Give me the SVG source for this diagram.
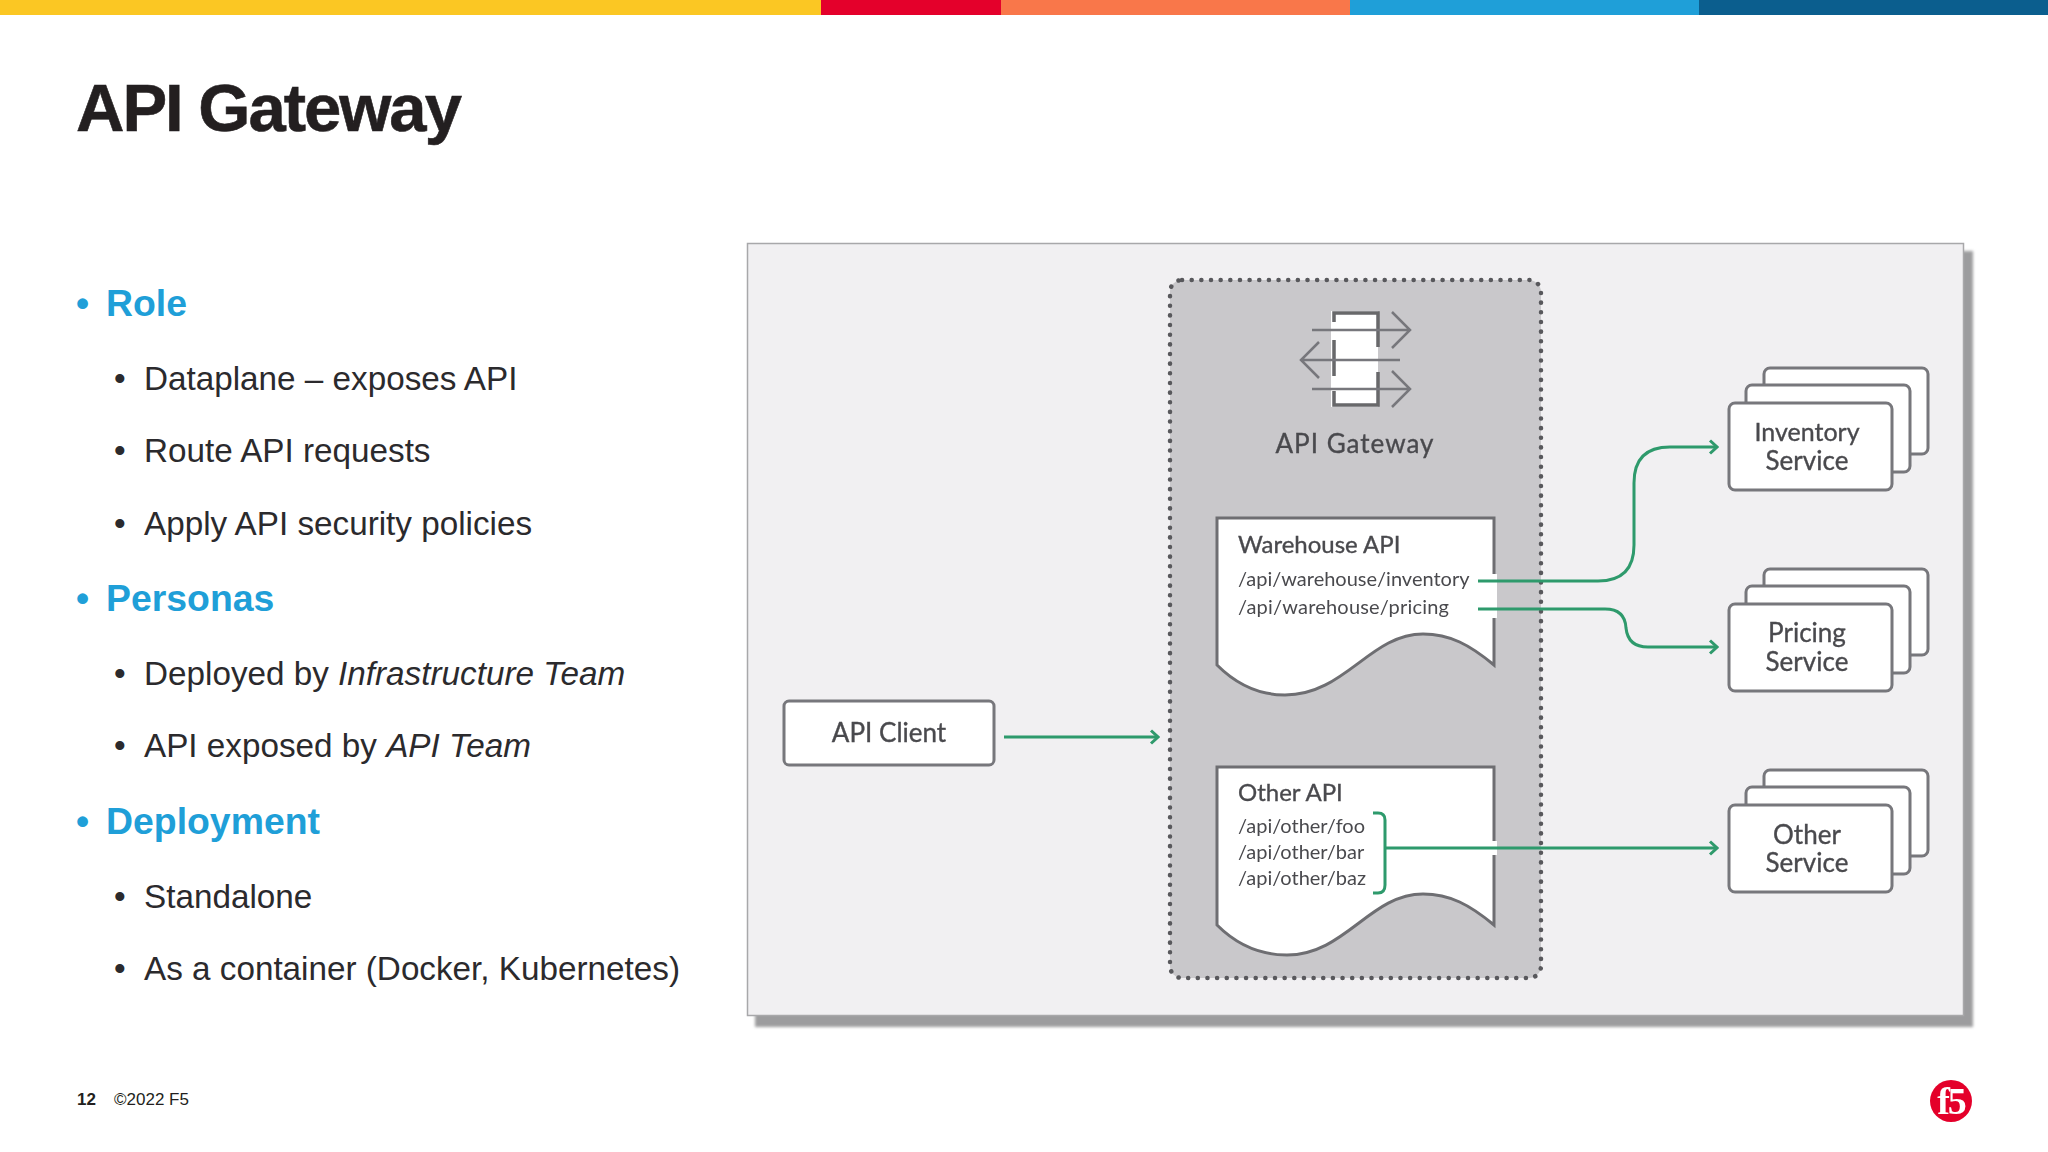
<svg xmlns="http://www.w3.org/2000/svg" width="2048" height="1152" viewBox="0 0 2048 1152">
<style>
text{font-family:"Liberation Sans",Arial,sans-serif}
.h{font-size:37.400px;font-weight:700;fill:#1f9fd8}
.b{font-size:33.250px;fill:#2b2a2d}
.d{font-family:Lato,"Open Sans",sans-serif;fill:#4a4a4e}
.t{font-size:26px;text-anchor:middle;stroke:#4a4a4e;stroke-width:0.350}
.api{font-size:24px;stroke:#4a4a4e;stroke-width:0.350}
.p{font-size:20px}
.box{fill:#fff;stroke:#77777b;stroke-width:3}
.doc{fill:#fff;stroke:#6e6e72;stroke-width:3}
.cn{fill:none;stroke:#2f9a6c;stroke-width:3}
.ic{fill:none;stroke:#67676b;stroke-width:3.500}
.ia{fill:none;stroke:#77777b;stroke-width:2.500}
.s{filter:url(#soft)}
</style>
<defs>
<marker id="ah" markerWidth="12" markerHeight="16" refX="10" refY="8" orient="auto" markerUnits="userSpaceOnUse"><path d="M3 1.500L10 8L3 14.500" fill="none" stroke="#2f9a6c" stroke-width="3"/></marker>
<filter id="soft" x="-5%" y="-5%" width="110%" height="110%"><feGaussianBlur stdDeviation="0.500"/></filter>
<filter id="shadow" x="-2%" y="-2%" width="104%" height="104%"><feGaussianBlur stdDeviation="1.500"/></filter>
</defs>
<rect width="2048" height="1152" fill="#fff"/>
<g id="topbar"><rect width="821" height="15" fill="#fbc723"/><rect x="821" width="180" height="15" fill="#e4002b"/><rect x="1001" width="349" height="15" fill="#f9774a"/><rect x="1350" width="349" height="15" fill="#1f9fd8"/><rect x="1699" width="349" height="15" fill="#0b5e8e"/></g>
<text x="76" y="131" font-size="67" font-weight="700" fill="#231f20" stroke="#231f20" stroke-width="0.600" letter-spacing="-2">API Gateway</text>
<g id="bullets">
<text x="76" y="316" class="h">•</text><text x="106" y="316" class="h">Role</text>
<text x="114" y="390" class="b">•</text><text x="144" y="390" class="b">Dataplane – exposes API</text>
<text x="114" y="462" class="b">•</text><text x="144" y="462" class="b">Route API requests</text>
<text x="114" y="535" class="b">•</text><text x="144" y="535" class="b">Apply API security policies</text>
<text x="76" y="611" class="h">•</text><text x="106" y="611" class="h">Personas</text>
<text x="114" y="685" class="b">•</text><text x="144" y="685" class="b">Deployed by <tspan font-style="italic">Infrastructure Team</tspan></text>
<text x="114" y="757" class="b">•</text><text x="144" y="757" class="b">API exposed by <tspan font-style="italic">API Team</tspan></text>
<text x="76" y="834" class="h">•</text><text x="106" y="834" class="h">Deployment</text>
<text x="114" y="908" class="b">•</text><text x="144" y="908" class="b">Standalone</text>
<text x="114" y="980" class="b">•</text><text x="144" y="980" class="b">As a container (Docker, Kubernetes)</text>
</g>
<g id="panel"><rect x="755" y="251" width="1218" height="776" fill="#9c9c9e" filter="url(#shadow)"/><rect x="747.500" y="243.500" width="1216" height="772" fill="#f1f0f2" stroke="#a8a8aa" stroke-width="1.500"/></g>
<g id="gateway-node" class="s"><rect x="1170" y="280" width="371" height="698" rx="12" fill="#c9c8cb" stroke="#58585c" stroke-width="4.500" stroke-linecap="round" stroke-dasharray="0.100 9.550"/>
<g id="gateway-icon"><rect x="1331" y="311" width="47" height="96" fill="#fff"/>
<path class="ic" d="M1334 322V313H1378V347M1378 372V405H1334V391M1334 340V376"/>
<path class="ia" d="M1312 330H1410M1392 312L1410 330L1392 348M1400 360H1301M1319 342L1301 360L1319 378M1312 389H1410M1392 371L1410 389L1392 407"/></g>
<text x="1355" y="453" class="d t" letter-spacing="1">API Gateway</text></g>
<g id="warehouse-api" class="s"><path class="doc" d="M1217 518H1494V665C1470 645 1450 634 1423 634C1370 634 1345 695 1285 695C1257 695 1234 682 1217 665Z"/>
<rect x="1491" y="574" width="6" height="44" fill="#fff"/>
<text x="1238" y="553" class="d api">Warehouse API</text><text x="1238" y="586" class="d p">/api/warehouse/inventory</text><text x="1238" y="614" class="d p" letter-spacing="0.200">/api/warehouse/pricing</text></g>
<g id="other-api" class="s"><path class="doc" d="M1217 767H1494V925C1470 905 1450 894 1423 894C1370 894 1345 955 1287 955C1259 955 1236 944 1217 925Z"/>
<rect x="1491" y="841" width="6" height="14" fill="#fff"/>
<text x="1238" y="801" class="d api">Other API</text><text x="1238" y="833" class="d p">/api/other/foo</text><text x="1238" y="859" class="d p">/api/other/bar</text><text x="1238" y="885" class="d p">/api/other/baz</text></g>
<g id="api-client" class="s"><rect x="784" y="701" width="210" height="64" rx="5" class="box"/><text x="889" y="742" class="d t">API Client</text></g>
<g id="inventory-service" class="s"><rect x="1764" y="368" width="164" height="86" rx="6" class="box"/><rect x="1746" y="385" width="164" height="87" rx="6" class="box"/><rect x="1729" y="403" width="163" height="87" rx="6" class="box"/><text x="1807" y="441" class="d t" style="font-size:25px">Inventory</text><text x="1807" y="470" class="d t">Service</text></g>
<g id="pricing-service" class="s"><rect x="1764" y="569" width="164" height="86" rx="6" class="box"/><rect x="1746" y="586" width="164" height="87" rx="6" class="box"/><rect x="1729" y="604" width="163" height="87" rx="6" class="box"/><text x="1807" y="642" class="d t">Pricing</text><text x="1807" y="671" class="d t">Service</text></g>
<g id="other-service" class="s"><rect x="1764" y="770" width="164" height="86" rx="6" class="box"/><rect x="1746" y="787" width="164" height="87" rx="6" class="box"/><rect x="1729" y="805" width="163" height="87" rx="6" class="box"/><text x="1807" y="844" class="d t">Other</text><text x="1807" y="872" class="d t">Service</text></g>
<g id="connectors" class="s">
<path class="cn" marker-end="url(#ah)" d="M1004 737H1158"/>
<path class="cn" marker-end="url(#ah)" d="M1478 581H1598Q1634 581 1634 545V483Q1634 447 1670 447H1717"/>
<path class="cn" marker-end="url(#ah)" d="M1478 609H1605Q1625 609 1626 628Q1628 647 1648 647H1717"/>
<path class="cn" d="M1373 813H1378Q1385 813 1385 820V885Q1385 893 1378 893H1373"/>
<path class="cn" marker-end="url(#ah)" d="M1385 848H1717"/>
</g>
<g id="footer"><text x="77" y="1105" font-size="17" font-weight="700" fill="#231f20">12</text><text x="114" y="1105" font-size="17" fill="#231f20">©2022 F5</text></g>
<g id="logo" class="s"><circle cx="1951" cy="1101" r="21" fill="#e4002b"/><text x="1951" y="1114" font-size="38" font-weight="700" text-anchor="middle" fill="#fff" style="font-family:'Liberation Serif',serif" letter-spacing="-2">f5</text></g>
</svg>
